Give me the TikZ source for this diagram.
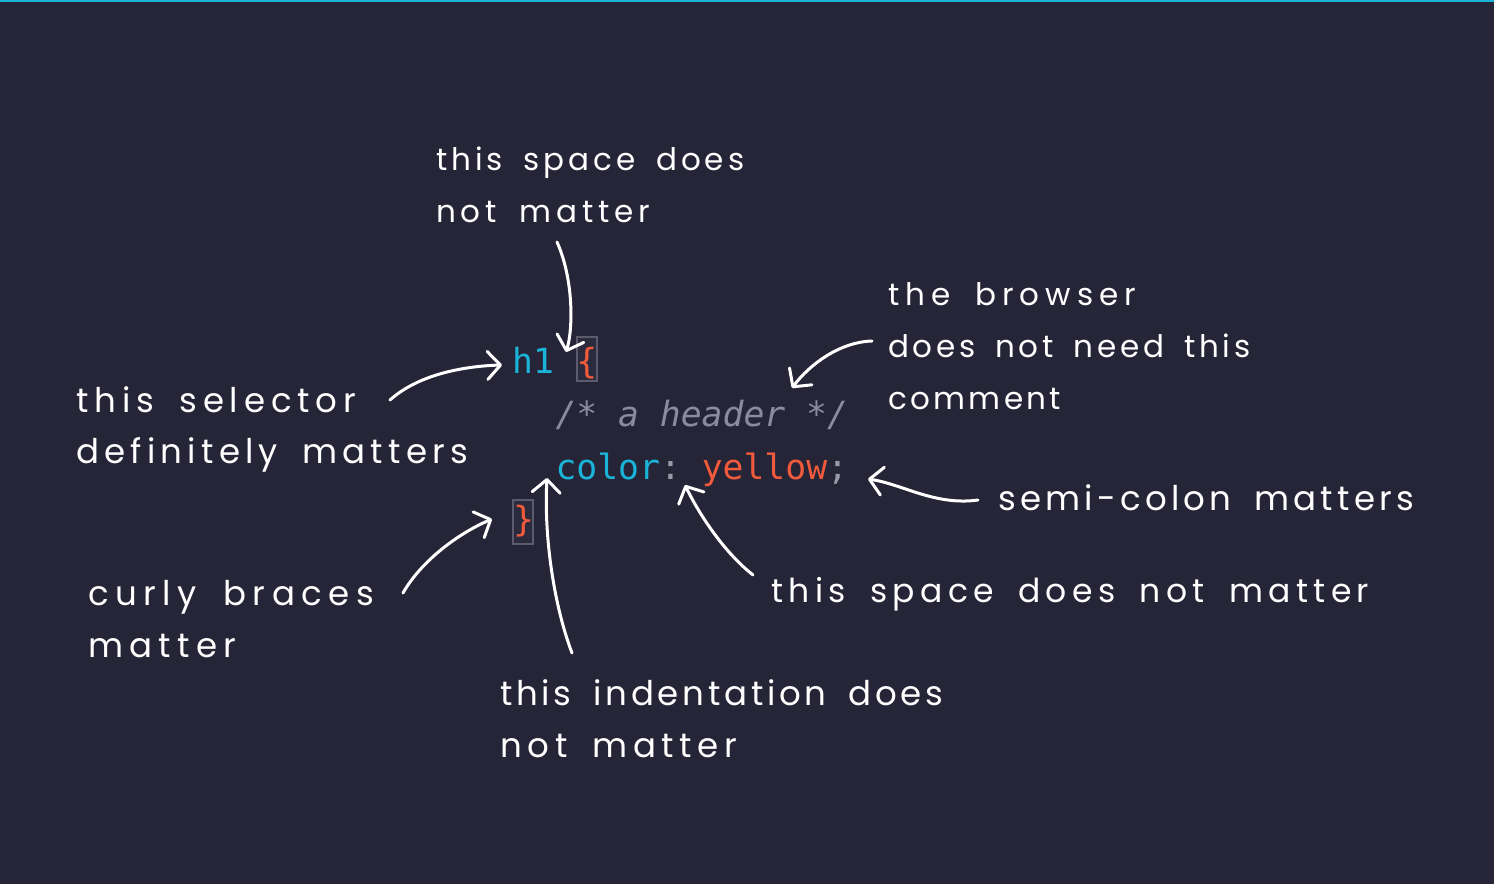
\documentclass[tikz,border=0pt]{standalone}
\usepackage{fontspec}
\setmainfont{Poppins}
\newfontfamily\notefont[WordSpace=1.7]{Poppins}
\newfontfamily\codefont{DejaVu Sans Mono}
\usetikzlibrary{arrows.meta}
\definecolor{bg}{HTML}{262538}
\definecolor{topline}{HTML}{1AB4D8}
\definecolor{sel}{HTML}{1AB4D8}
\definecolor{val}{HTML}{F25A3C}
\definecolor{cmt}{HTML}{8C8B9D}
\definecolor{punct}{HTML}{9A99A8}
\definecolor{boxline}{HTML}{5C5B6D}
\definecolor{boxfill}{HTML}{2C2B3E}
\tikzset{
  note/.style={text=white, inner sep=0pt, anchor=base west},
  code/.style={inner sep=0pt, anchor=base west, font=\codefont\fontsize{34.7}{40}\selectfont},
  cmtcode/.style={code, font=\codefont\itshape\fontsize{34.7}{40}\selectfont, text=cmt},
  bracebox/.style={draw=boxline, fill=boxfill, line width=1.6pt},
  arr/.style={draw=white, line width=3pt, line cap=round, line join=round,
    -{Straight Barb[length=13pt,width=28pt,round]}}
}
% \fitline{font size}{target width}{text}: letter-spaced so that the line has the target width
\newcommand\fitline[3]{%
  \setbox0=\hbox{\notefont\fontsize{#1}{52}\selectfont #3}%
  \setbox2=\hbox{\notefont\fontsize{#1}{52}\selectfont\addfontfeature{LetterSpace=10}#3}%
  \pgfmathsetmacro\fitls{10*((#2)-\the\wd0)/(\the\wd2-\the\wd0)}%
  \hbox{\notefont\fontsize{#1}{52}\selectfont\addfontfeature{LetterSpace=\fitls}#3}}
\begin{document}
\begin{tikzpicture}[x=1pt,y=-1pt]
\useasboundingbox (0,0) rectangle (1494,884);
\fill[bg] (0,0) rectangle (1494,884);
\fill[topline] (0,0) rectangle (1494,2);

% brace highlight boxes
\filldraw[bracebox] (577,337) rectangle (597,381);
\filldraw[bracebox] (513,500) rectangle (533,544);

% code
\node[code, text=sel] (h1) at (512,373) {h1};
\node[code, text=val] (lbrace) at (576.2,373) {\{};
\node[cmtcode] (comment) at (555.3,426) {/* a header */};
\node[code, text=sel] (prop) at (555.3,479) {color};
\node[code, text=punct] (colon) at (659.8,479) {:};
\node[code, text=val] (value) at (701.6,479) {yellow};
\node[code, text=punct] (semi) at (827,479) {;};
\node[code, text=val] (rbrace) at (513,531) {\}};

% notes
\node[note] (n1) at (436,170) {\vtop{\baselineskip=52pt
  \fitline{31}{308}{this space does}\fitline{31}{214}{not matter}}};
\node[note] (n2) at (888,305) {\vtop{\baselineskip=52pt
  \fitline{31}{248}{the browser}\fitline{31}{362}{does not need this}\fitline{31}{173}{comment}}};
\node[note] (n3) at (76,412) {\vtop{\baselineskip=51pt
  \fitline{34}{280}{this selector}\fitline{34}{392}{definitely matters}}};
\node[note] (n4) at (88,605) {\vtop{\baselineskip=52pt
  \fitline{34}{286}{curly braces}\fitline{34}{148}{matter}}};
\node[note] (n5) at (998,510) {\fitline{34}{416}{semi-colon matters}};
\node[note] (n6) at (771,602) {\fitline{33}{598}{this space does not matter}};
\node[note] (n7) at (500,705) {\vtop{\baselineskip=52pt
  \fitline{34}{443}{this indentation does}\fitline{34}{237}{not matter}}};

% arrow end points
\coordinate (a1s) at (557,242); \coordinate (a1e) at (566,352);
\coordinate (a2s) at (390,400); \coordinate (a2e) at (502,365);
\coordinate (a3s) at (403,593); \coordinate (a3e) at (492,519);
\coordinate (a4s) at (872,341); \coordinate (a4e) at (792,388);
\coordinate (a5s) at (978,500); \coordinate (a5e) at (868,479);
\coordinate (a6s) at (753,575); \coordinate (a6e) at (685,485);
\coordinate (a7s) at (572,653); \coordinate (a7e) at (547,478);

\draw[arr] (a1s) .. controls (574,280) and (573,330) .. (a1e);
\draw[arr] (a2s) .. controls (420,373) and (468,366) .. (a2e);
\draw[arr] (a3s) .. controls (420,563) and (455,535) .. (a3e);
\draw[arr] (a4s) .. controls (840,342) and (810,364) .. (a4e);
\draw[arr] (a5s) .. controls (935,506) and (902,484) .. (a5e);
\draw[arr] (a6s) .. controls (725,553) and (700,516) .. (a6e);
\draw[arr] (a7s) .. controls (552,600) and (544,530) .. (a7e);
\end{tikzpicture}
\end{document}
